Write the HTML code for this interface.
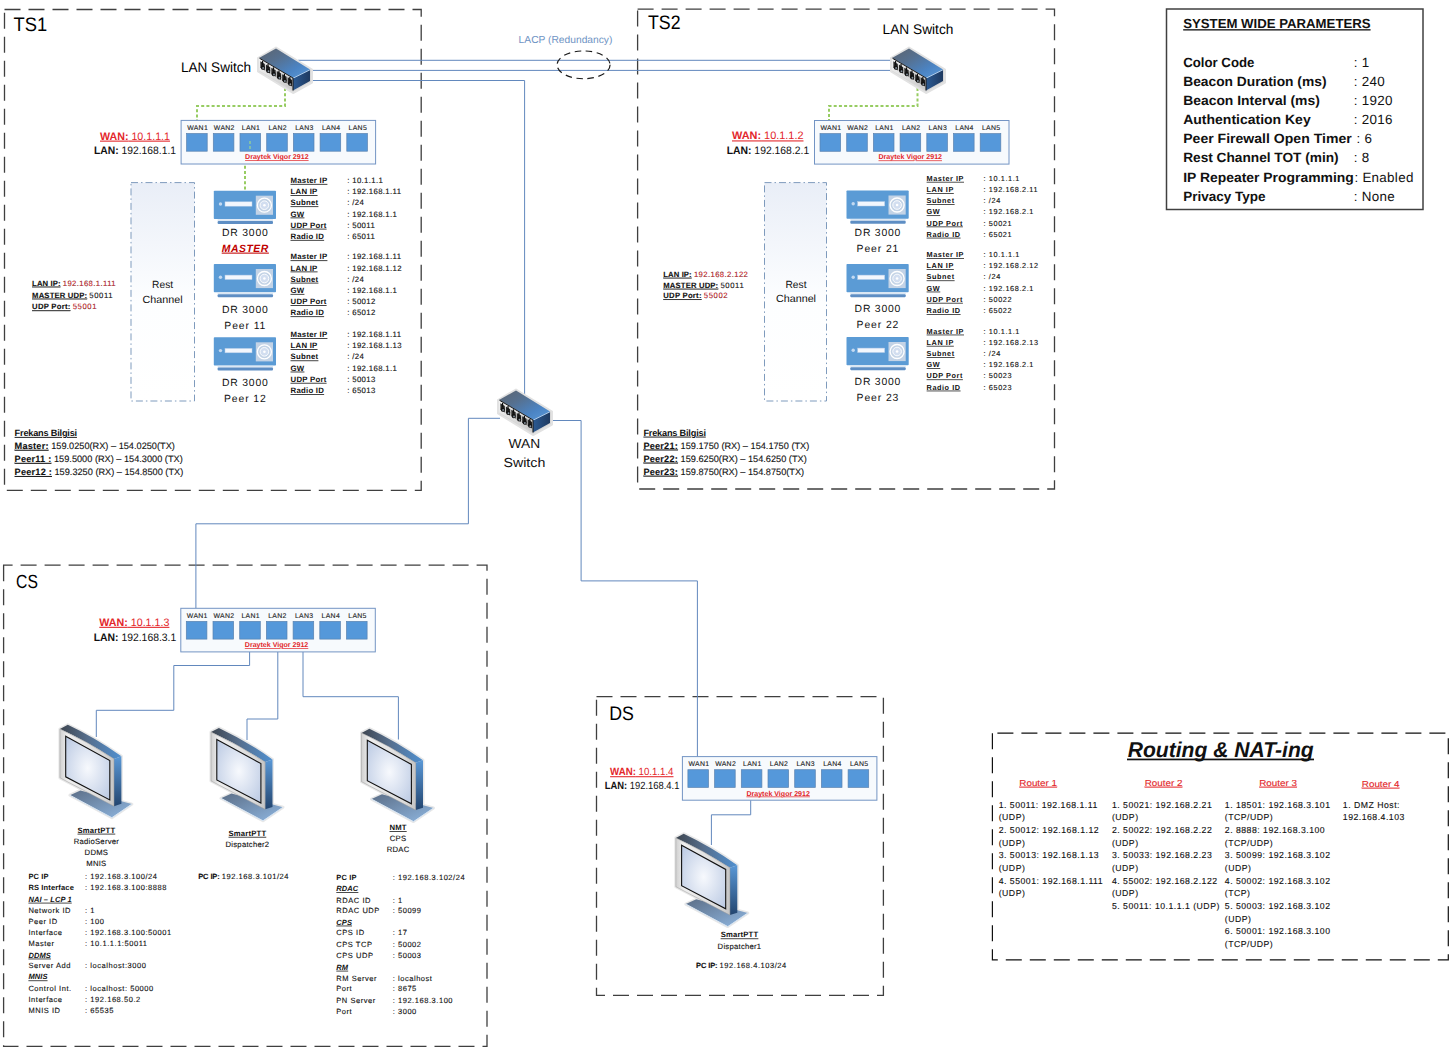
<!DOCTYPE html>
<html><head><meta charset="utf-8"><title>Network Diagram</title>
<style>
html,body{margin:0;padding:0;background:#fff;}
body{width:1450px;height:1047px;overflow:hidden;position:relative;}
text{text-decoration-skip-ink:none;}
svg{position:absolute;left:0;top:0;text-rendering:geometricPrecision;font-family:"Liberation Sans", sans-serif;}
</style></head><body>
<svg width="1450" height="1047" viewBox="0 0 1450 1047">

<defs>
 <linearGradient id="swtop" x1="0" y1="0" x2="1" y2="1">
  <stop offset="0" stop-color="#5b6470"/><stop offset="0.35" stop-color="#56708f"/><stop offset="0.7" stop-color="#4b84c4"/><stop offset="1" stop-color="#5c9ad8"/>
 </linearGradient>
 <linearGradient id="swside" x1="0" y1="0" x2="1" y2="0">
  <stop offset="0" stop-color="#2b5a93"/><stop offset="1" stop-color="#1f3a60"/>
 </linearGradient>
 <linearGradient id="restg" x1="0" y1="0" x2="0" y2="1">
  <stop offset="0" stop-color="#e9eef7"/><stop offset="0.55" stop-color="#fdfeff"/><stop offset="1" stop-color="#ffffff"/>
 </linearGradient>
 <radialGradient id="scr" cx="0.5" cy="0.5" r="0.7">
  <stop offset="0" stop-color="#f7f9fd"/><stop offset="1" stop-color="#b9c8e2"/>
 </radialGradient>
 <linearGradient id="montop" x1="0" y1="0" x2="1" y2="0">
  <stop offset="0" stop-color="#3d4550"/><stop offset="0.45" stop-color="#566e8c"/><stop offset="1" stop-color="#5090d0"/>
 </linearGradient>
 <linearGradient id="monside" x1="0" y1="0" x2="0" y2="1">
  <stop offset="0" stop-color="#5a98d6"/><stop offset="1" stop-color="#23456f"/>
 </linearGradient>
 <linearGradient id="bez" x1="0" y1="0" x2="1" y2="0">
  <stop offset="0" stop-color="#d0d0d0"/><stop offset="0.15" stop-color="#efefef"/><stop offset="0.8" stop-color="#dadada"/><stop offset="1" stop-color="#c4c4c4"/>
 </linearGradient>
 <linearGradient id="base" x1="0" y1="0" x2="1" y2="1">
  <stop offset="0" stop-color="#5c6f88"/><stop offset="1" stop-color="#8fb6e0"/>
 </linearGradient>
 <linearGradient id="swfront" x1="0" y1="0" x2="1" y2="1">
  <stop offset="0" stop-color="#f2f2f2"/><stop offset="1" stop-color="#c9c9c9"/>
 </linearGradient>
 <g id="sw">
  <path d="M0,10 L18,-0.5 L54,21.5 L54,34.5 L35,45 L0,23.5 Z" fill="#d6d6d6" stroke="#e2e2e2" stroke-width="2" stroke-linejoin="round"/>
  <path d="M1,10 L18,0.5 L52,21.5 L35,30 Z" fill="url(#swtop)"/>
  <path d="M35,30 L52,21.5 L52,33 L35,42.5 Z" fill="url(#swside)"/>
  <path d="M35.5,30 L52,21.8" stroke="#b5d5f5" stroke-width="0.9"/>
  <path d="M1,10 L35,30 L35,42.5 L1,22.5 Z" fill="url(#swfront)"/>
  <path d="M1.5,10.3 L35,30" stroke="#1a1a1a" stroke-width="1"/>
  <path d="M35,30 L35,42.5" stroke="#1a1a1a" stroke-width="1.1"/>
  <path d="M2.40,13.32 l4.4,2.6 v6.5 l-4.4,-2.6 z" fill="#262626"/><path d="M4.60,12.92 V17.12" stroke="#0d0d0d" stroke-width="1.2"/><ellipse cx="4.80" cy="19.52" rx="2.0" ry="2.3" fill="#111"/><ellipse cx="5.10" cy="20.12" rx="0.9" ry="1" fill="#8a96a2"/><path d="M7.85,16.53 l4.4,2.6 v6.5 l-4.4,-2.6 z" fill="#262626"/><path d="M10.05,16.12 V20.32" stroke="#0d0d0d" stroke-width="1.2"/><ellipse cx="10.25" cy="22.72" rx="2.0" ry="2.3" fill="#111"/><ellipse cx="10.55" cy="23.32" rx="0.9" ry="1" fill="#8a96a2"/><path d="M13.30,19.73 l4.4,2.6 v6.5 l-4.4,-2.6 z" fill="#262626"/><path d="M15.50,19.33 V23.53" stroke="#0d0d0d" stroke-width="1.2"/><ellipse cx="15.70" cy="25.93" rx="2.0" ry="2.3" fill="#111"/><ellipse cx="16.00" cy="26.53" rx="0.9" ry="1" fill="#8a96a2"/><path d="M18.75,22.94 l4.4,2.6 v6.5 l-4.4,-2.6 z" fill="#262626"/><path d="M20.95,22.53 V26.73" stroke="#0d0d0d" stroke-width="1.2"/><ellipse cx="21.15" cy="29.13" rx="2.0" ry="2.3" fill="#111"/><ellipse cx="21.45" cy="29.73" rx="0.9" ry="1" fill="#8a96a2"/><path d="M24.20,26.14 l4.4,2.6 v6.5 l-4.4,-2.6 z" fill="#262626"/><path d="M26.40,25.74 V29.94" stroke="#0d0d0d" stroke-width="1.2"/><ellipse cx="26.60" cy="32.34" rx="2.0" ry="2.3" fill="#111"/><ellipse cx="26.90" cy="32.94" rx="0.9" ry="1" fill="#8a96a2"/><path d="M29.65,29.35 l4.4,2.6 v6.5 l-4.4,-2.6 z" fill="#262626"/><path d="M31.85,28.94 V33.14" stroke="#0d0d0d" stroke-width="1.2"/><ellipse cx="32.05" cy="35.54" rx="2.0" ry="2.3" fill="#111"/><ellipse cx="32.35" cy="36.14" rx="0.9" ry="1" fill="#8a96a2"/>
 </g>
 <g id="rt">
  <rect x="0" y="0" width="194.5" height="43.6" fill="#f7fafd" stroke="#7394c4" stroke-width="1"/>
  <g fill="#5598da" stroke="#5a82b0" stroke-width="0.7">
   <rect x="5.5" y="13.1" width="20.6" height="17.7"/>
   <rect x="32.2" y="13.1" width="20.6" height="17.7"/>
   <rect x="58.9" y="13.1" width="20.6" height="17.7"/>
   <rect x="85.6" y="13.1" width="20.6" height="17.7"/>
   <rect x="112.3" y="13.1" width="20.6" height="17.7"/>
   <rect x="139.0" y="13.1" width="20.6" height="17.7"/>
   <rect x="165.7" y="13.1" width="20.6" height="17.7"/>
  </g>
 </g>
 <g id="dr">
  <rect x="0" y="0" width="62.2" height="28.3" rx="0.8" fill="#5b9bd5"/>
  <rect x="3.8" y="28.5" width="55.4" height="1.8" fill="#dbe7f4"/>
  <rect x="3.8" y="30.3" width="55.4" height="3" rx="1" fill="#5e8ec4"/>
  <rect x="11.2" y="11.1" width="27" height="4.4" fill="#f3f7fd" stroke="#b4cce8" stroke-width="0.5"/>
  <circle cx="6.7" cy="13.3" r="1.7" fill="#c3d9f1"/>
  <rect x="42" y="5" width="17.2" height="19.1" fill="#c3d3e6"/>
  <circle cx="50.6" cy="14.5" r="7" fill="none" stroke="#fff" stroke-width="1.3"/>
  <circle cx="50.6" cy="14.5" r="4.3" fill="#d2def0" stroke="#fff" stroke-width="0.9"/>
  <circle cx="50.6" cy="14.5" r="1.3" fill="#fff"/>
 </g>
 <g id="mon">
  <path d="M10,70.4 L20.5,65.6 L72,79.3 L52,92.9 Z" fill="#e6e6e6" stroke="#e8e8e8" stroke-width="3" stroke-linejoin="round"/>
  <path d="M0,4.2 L7.9,0 Q34.7,12.5 61.5,31.5 L61.5,79 L54.1,81.4 L0,53 Z" fill="#e6e6e6" stroke="#e8e8e8" stroke-width="3" stroke-linejoin="round"/>
  <path d="M10,70.4 L20.5,65.6 L72,79.3 L52,92.9 Z" fill="url(#base)"/>
  <path d="M72,79.3 L52,92.9 L10,70.4" fill="none" stroke="#d8e6f4" stroke-width="1"/>
  <path d="M0,4.2 L7.9,0 Q34.7,12.5 61.5,31.5 L54.1,34.1 Q27,16.5 0,4.2 Z" fill="url(#montop)"/>
  <path d="M54.1,34.1 L61.5,31.5 L61.5,79 L54.1,81.4 Z" fill="url(#monside)"/>
  <path d="M0,4.2 Q27,16.5 54.1,34.1 L54.1,81.4 L0,53 Z" fill="url(#bez)" stroke="#9a9a9a" stroke-width="0.5"/>
  <path d="M5.8,11.5 L49.9,35.7 L49.9,75.1 L5.8,52 Z" fill="url(#scr)" stroke="#111" stroke-width="1.1"/>
 </g>
</defs>

<path d="M4.5,9.5 H421.2 V490.4 H4.5 Z" stroke="#3f3f3f" stroke-width="1.3" stroke-dasharray="16 8" fill="none"/><path d="M637.6,9.2 H1054.5 V489 H637.6 Z" stroke="#3f3f3f" stroke-width="1.3" stroke-dasharray="16 8" fill="none"/><path d="M3.6,565.2 V1046.3 H487 V565.2 Z" stroke="#3f3f3f" stroke-width="1.3" stroke-dasharray="16 8" fill="none"/><path d="M596.5,696.6 H883.4 V995.3 H596.5 Z" stroke="#3f3f3f" stroke-width="1.3" stroke-dasharray="16 8" fill="none"/><path d="M992.4,733.2 V959.8 H1448.3 V733.2 Z" stroke="#111" stroke-width="1.2" stroke-dasharray="16 8" fill="none"/><rect x="1166.5" y="9" width="256.5" height="200.5" fill="none" stroke="#404040" stroke-width="1.5"/><path d="M298,60.3 L892,60.3" stroke="#6288bd" stroke-width="1" fill="none"/><path d="M312,70.4 L892,70.4" stroke="#6288bd" stroke-width="1" fill="none"/><path d="M312,80.5 L524.6,80.5 L524.6,395" stroke="#6288bd" stroke-width="1" fill="none"/><path d="M500,418.3 L468.4,418.3 L468.4,523.8 L195.9,523.8 L195.9,608.3" stroke="#6288bd" stroke-width="1" fill="none"/><path d="M550,420.5 L581.1,420.5 L581.1,580.9 L697.4,580.9 L697.4,756.6" stroke="#6288bd" stroke-width="1" fill="none"/><path d="M249.6,651.7 L249.6,665.5 L173.8,665.5 L173.8,710.3 L96.3,710.3 L96.3,737" stroke="#6288bd" stroke-width="1" fill="none"/><path d="M277.8,651.7 L277.8,719 L247,719 L247,740" stroke="#6288bd" stroke-width="1" fill="none"/><path d="M303,651.7 L303,696.7 L398.4,696.7 L398.4,739.5" stroke="#6288bd" stroke-width="1" fill="none"/><path d="M750.7,800.2 L750.7,814.8 L711.4,814.8 L711.4,845" stroke="#6288bd" stroke-width="1" fill="none"/><ellipse cx="583.6" cy="64.85" rx="26.5" ry="13.9" fill="none" stroke="#1a1a1a" stroke-width="1.2" stroke-dasharray="6.5 4.5"/><path d="M285,88 L285,106 L197,106 L197,120.5" stroke="#97cc62" stroke-width="2" stroke-dasharray="3 2.2" fill="none"/><path d="M245,160.5 L245,190.5" stroke="#97cc62" stroke-width="2" stroke-dasharray="3 2.2" fill="none"/><path d="M917.5,88 L917.5,106 L829,106 L829,120.5" stroke="#97cc62" stroke-width="2" stroke-dasharray="3 2.2" fill="none"/><use href="#sw" x="258" y="48"/><use href="#sw" x="891" y="48"/><use href="#sw" x="498" y="390"/><use href="#rt" x="181.1" y="120.4"/><use href="#rt" x="814.5" y="120.5"/><use href="#rt" x="180.8" y="608.3"/><use href="#rt" x="682.4" y="756.6"/><use href="#dr" x="213.8" y="190.7"/><use href="#dr" x="213.8" y="264"/><use href="#dr" x="213.8" y="337.3"/><use href="#dr" x="846.5" y="190.5"/><use href="#dr" x="846.5" y="264"/><use href="#dr" x="846.5" y="337"/><rect x="131" y="182.6" width="63.5" height="218.4" fill="url(#restg)" stroke="#7f9bbd" stroke-width="1" stroke-dasharray="7 3 1.5 3"/><rect x="764.5" y="182.6" width="62.0" height="218.4" fill="url(#restg)" stroke="#7f9bbd" stroke-width="1" stroke-dasharray="7 3 1.5 3"/><use href="#mon" x="59.9" y="724.8"/><use href="#mon" x="211" y="727.9"/><use href="#mon" x="361.5" y="728.7"/><use href="#mon" x="675.8" y="833.7"/><path d="M250,141 V151" stroke="#8cc9a0" stroke-width="1.6" stroke-dasharray="3 2" fill="none"/><rect x="1127" y="758.6" width="187" height="1.7" fill="#111"/><text x="197.6" y="130.0" font-size="6.9" fill="#222" text-anchor="middle" letter-spacing="0.3" stroke="#222" stroke-width="0.12">WAN1</text><text x="224.3" y="130.0" font-size="6.9" fill="#222" text-anchor="middle" letter-spacing="0.3" stroke="#222" stroke-width="0.12">WAN2</text><text x="251.0" y="130.0" font-size="6.9" fill="#222" text-anchor="middle" letter-spacing="0.3" stroke="#222" stroke-width="0.12">LAN1</text><text x="277.7" y="130.0" font-size="6.9" fill="#222" text-anchor="middle" letter-spacing="0.3" stroke="#222" stroke-width="0.12">LAN2</text><text x="304.4" y="130.0" font-size="6.9" fill="#222" text-anchor="middle" letter-spacing="0.3" stroke="#222" stroke-width="0.12">LAN3</text><text x="331.1" y="130.0" font-size="6.9" fill="#222" text-anchor="middle" letter-spacing="0.3" stroke="#222" stroke-width="0.12">LAN4</text><text x="357.8" y="130.0" font-size="6.9" fill="#222" text-anchor="middle" letter-spacing="0.3" stroke="#222" stroke-width="0.12">LAN5</text><text x="245.1" y="159.3" font-size="7.1" font-weight="bold" fill="#e3262a" text-decoration="underline" textLength="63.5" lengthAdjust="spacingAndGlyphs">Draytek Vigor 2912</text><text x="831.0" y="130.1" font-size="6.9" fill="#222" text-anchor="middle" letter-spacing="0.3" stroke="#222" stroke-width="0.12">WAN1</text><text x="857.7" y="130.1" font-size="6.9" fill="#222" text-anchor="middle" letter-spacing="0.3" stroke="#222" stroke-width="0.12">WAN2</text><text x="884.4" y="130.1" font-size="6.9" fill="#222" text-anchor="middle" letter-spacing="0.3" stroke="#222" stroke-width="0.12">LAN1</text><text x="911.1" y="130.1" font-size="6.9" fill="#222" text-anchor="middle" letter-spacing="0.3" stroke="#222" stroke-width="0.12">LAN2</text><text x="937.8" y="130.1" font-size="6.9" fill="#222" text-anchor="middle" letter-spacing="0.3" stroke="#222" stroke-width="0.12">LAN3</text><text x="964.5" y="130.1" font-size="6.9" fill="#222" text-anchor="middle" letter-spacing="0.3" stroke="#222" stroke-width="0.12">LAN4</text><text x="991.2" y="130.1" font-size="6.9" fill="#222" text-anchor="middle" letter-spacing="0.3" stroke="#222" stroke-width="0.12">LAN5</text><text x="878.5" y="159.4" font-size="7.1" font-weight="bold" fill="#e3262a" text-decoration="underline" textLength="63.5" lengthAdjust="spacingAndGlyphs">Draytek Vigor 2912</text><text x="197.3" y="617.9" font-size="6.9" fill="#222" text-anchor="middle" letter-spacing="0.3" stroke="#222" stroke-width="0.12">WAN1</text><text x="224.0" y="617.9" font-size="6.9" fill="#222" text-anchor="middle" letter-spacing="0.3" stroke="#222" stroke-width="0.12">WAN2</text><text x="250.7" y="617.9" font-size="6.9" fill="#222" text-anchor="middle" letter-spacing="0.3" stroke="#222" stroke-width="0.12">LAN1</text><text x="277.4" y="617.9" font-size="6.9" fill="#222" text-anchor="middle" letter-spacing="0.3" stroke="#222" stroke-width="0.12">LAN2</text><text x="304.1" y="617.9" font-size="6.9" fill="#222" text-anchor="middle" letter-spacing="0.3" stroke="#222" stroke-width="0.12">LAN3</text><text x="330.8" y="617.9" font-size="6.9" fill="#222" text-anchor="middle" letter-spacing="0.3" stroke="#222" stroke-width="0.12">LAN4</text><text x="357.5" y="617.9" font-size="6.9" fill="#222" text-anchor="middle" letter-spacing="0.3" stroke="#222" stroke-width="0.12">LAN5</text><text x="244.8" y="647.2" font-size="7.1" font-weight="bold" fill="#e3262a" text-decoration="underline" textLength="63.5" lengthAdjust="spacingAndGlyphs">Draytek Vigor 2912</text><text x="698.9" y="766.2" font-size="6.9" fill="#222" text-anchor="middle" letter-spacing="0.3" stroke="#222" stroke-width="0.12">WAN1</text><text x="725.6" y="766.2" font-size="6.9" fill="#222" text-anchor="middle" letter-spacing="0.3" stroke="#222" stroke-width="0.12">WAN2</text><text x="752.3" y="766.2" font-size="6.9" fill="#222" text-anchor="middle" letter-spacing="0.3" stroke="#222" stroke-width="0.12">LAN1</text><text x="779.0" y="766.2" font-size="6.9" fill="#222" text-anchor="middle" letter-spacing="0.3" stroke="#222" stroke-width="0.12">LAN2</text><text x="805.7" y="766.2" font-size="6.9" fill="#222" text-anchor="middle" letter-spacing="0.3" stroke="#222" stroke-width="0.12">LAN3</text><text x="832.4" y="766.2" font-size="6.9" fill="#222" text-anchor="middle" letter-spacing="0.3" stroke="#222" stroke-width="0.12">LAN4</text><text x="859.1" y="766.2" font-size="6.9" fill="#222" text-anchor="middle" letter-spacing="0.3" stroke="#222" stroke-width="0.12">LAN5</text><text x="746.4" y="795.5" font-size="7.1" font-weight="bold" fill="#e3262a" text-decoration="underline" textLength="63.5" lengthAdjust="spacingAndGlyphs">Draytek Vigor 2912</text><text x="13.6" y="30.6" font-size="19.5" textLength="33.6" lengthAdjust="spacingAndGlyphs">TS1</text><text x="181.0" y="72.0" font-size="14" textLength="70.0" lengthAdjust="spacingAndGlyphs">LAN Switch</text><text x="100.0" y="139.6" font-size="10.8" fill="#e3262a" text-decoration="underline" textLength="70.0" lengthAdjust="spacingAndGlyphs"><tspan font-weight="bold">WAN:</tspan> 10.1.1.1</text><text x="94.0" y="153.8" font-size="10.8" fill="#111" textLength="82.0" lengthAdjust="spacingAndGlyphs"><tspan font-weight="bold">LAN:</tspan> 192.168.1.1</text><text x="290.5" y="182.9" font-size="7.8" font-weight="bold" fill="#111" text-decoration="underline" letter-spacing="0.25">Master IP</text><text x="347.2" y="182.9" font-size="7.8" fill="#111" letter-spacing="0.35" stroke="#111" stroke-width="0.12">: 10.1.1.1</text><text x="290.5" y="194.1" font-size="7.8" font-weight="bold" fill="#111" text-decoration="underline" letter-spacing="0.25">LAN IP</text><text x="347.2" y="194.1" font-size="7.8" fill="#111" letter-spacing="0.35" stroke="#111" stroke-width="0.12">: 192.168.1.11</text><text x="290.5" y="205.3" font-size="7.8" font-weight="bold" fill="#111" text-decoration="underline" letter-spacing="0.25">Subnet</text><text x="347.2" y="205.3" font-size="7.8" fill="#111" letter-spacing="0.35" stroke="#111" stroke-width="0.12">: /24</text><text x="290.5" y="216.5" font-size="7.8" font-weight="bold" fill="#111" text-decoration="underline" letter-spacing="0.25">GW</text><text x="347.2" y="216.5" font-size="7.8" fill="#111" letter-spacing="0.35" stroke="#111" stroke-width="0.12">: 192.168.1.1</text><text x="290.5" y="227.7" font-size="7.8" font-weight="bold" fill="#111" text-decoration="underline" letter-spacing="0.25">UDP Port</text><text x="347.2" y="227.7" font-size="7.8" fill="#111" letter-spacing="0.35" stroke="#111" stroke-width="0.12">: 50011</text><text x="290.5" y="238.9" font-size="7.8" font-weight="bold" fill="#111" text-decoration="underline" letter-spacing="0.25">Radio ID</text><text x="347.2" y="238.9" font-size="7.8" fill="#111" letter-spacing="0.35" stroke="#111" stroke-width="0.12">: 65011</text><text x="290.5" y="259.3" font-size="7.8" font-weight="bold" fill="#111" text-decoration="underline" letter-spacing="0.25">Master IP</text><text x="347.2" y="259.3" font-size="7.8" fill="#111" letter-spacing="0.35" stroke="#111" stroke-width="0.12">: 192.168.1.11</text><text x="290.5" y="270.5" font-size="7.8" font-weight="bold" fill="#111" text-decoration="underline" letter-spacing="0.25">LAN IP</text><text x="347.2" y="270.5" font-size="7.8" fill="#111" letter-spacing="0.35" stroke="#111" stroke-width="0.12">: 192.168.1.12</text><text x="290.5" y="281.7" font-size="7.8" font-weight="bold" fill="#111" text-decoration="underline" letter-spacing="0.25">Subnet</text><text x="347.2" y="281.7" font-size="7.8" fill="#111" letter-spacing="0.35" stroke="#111" stroke-width="0.12">: /24</text><text x="290.5" y="292.9" font-size="7.8" font-weight="bold" fill="#111" text-decoration="underline" letter-spacing="0.25">GW</text><text x="347.2" y="292.9" font-size="7.8" fill="#111" letter-spacing="0.35" stroke="#111" stroke-width="0.12">: 192.168.1.1</text><text x="290.5" y="304.1" font-size="7.8" font-weight="bold" fill="#111" text-decoration="underline" letter-spacing="0.25">UDP Port</text><text x="347.2" y="304.1" font-size="7.8" fill="#111" letter-spacing="0.35" stroke="#111" stroke-width="0.12">: 50012</text><text x="290.5" y="315.3" font-size="7.8" font-weight="bold" fill="#111" text-decoration="underline" letter-spacing="0.25">Radio ID</text><text x="347.2" y="315.3" font-size="7.8" fill="#111" letter-spacing="0.35" stroke="#111" stroke-width="0.12">: 65012</text><text x="290.5" y="337.0" font-size="7.8" font-weight="bold" fill="#111" text-decoration="underline" letter-spacing="0.25">Master IP</text><text x="347.2" y="337.0" font-size="7.8" fill="#111" letter-spacing="0.35" stroke="#111" stroke-width="0.12">: 192.168.1.11</text><text x="290.5" y="348.2" font-size="7.8" font-weight="bold" fill="#111" text-decoration="underline" letter-spacing="0.25">LAN IP</text><text x="347.2" y="348.2" font-size="7.8" fill="#111" letter-spacing="0.35" stroke="#111" stroke-width="0.12">: 192.168.1.13</text><text x="290.5" y="359.4" font-size="7.8" font-weight="bold" fill="#111" text-decoration="underline" letter-spacing="0.25">Subnet</text><text x="347.2" y="359.4" font-size="7.8" fill="#111" letter-spacing="0.35" stroke="#111" stroke-width="0.12">: /24</text><text x="290.5" y="370.6" font-size="7.8" font-weight="bold" fill="#111" text-decoration="underline" letter-spacing="0.25">GW</text><text x="347.2" y="370.6" font-size="7.8" fill="#111" letter-spacing="0.35" stroke="#111" stroke-width="0.12">: 192.168.1.1</text><text x="290.5" y="381.8" font-size="7.8" font-weight="bold" fill="#111" text-decoration="underline" letter-spacing="0.25">UDP Port</text><text x="347.2" y="381.8" font-size="7.8" fill="#111" letter-spacing="0.35" stroke="#111" stroke-width="0.12">: 50013</text><text x="290.5" y="393.0" font-size="7.8" font-weight="bold" fill="#111" text-decoration="underline" letter-spacing="0.25">Radio ID</text><text x="347.2" y="393.0" font-size="7.8" fill="#111" letter-spacing="0.35" stroke="#111" stroke-width="0.12">: 65013</text><text x="245.3" y="235.6" font-size="10.4" fill="#111" text-anchor="middle" letter-spacing="0.8">DR 3000</text><text x="245.3" y="251.6" font-size="10.4" font-weight="bold" font-style="italic" fill="#c00000" text-decoration="underline" text-anchor="middle" letter-spacing="0.55">MASTER</text><text x="245.3" y="312.6" font-size="10.4" fill="#111" text-anchor="middle" letter-spacing="0.8">DR 3000</text><text x="245.3" y="328.6" font-size="10.4" fill="#111" text-anchor="middle" letter-spacing="0.9">Peer 11</text><text x="245.3" y="385.8" font-size="10.4" fill="#111" text-anchor="middle" letter-spacing="0.8">DR 3000</text><text x="245.3" y="401.8" font-size="10.4" fill="#111" text-anchor="middle" letter-spacing="0.9">Peer 12</text><text x="162.6" y="288.2" font-size="10.4" fill="#111" text-anchor="middle" textLength="21.0" lengthAdjust="spacingAndGlyphs">Rest</text><text x="162.6" y="303.2" font-size="10.4" fill="#111" text-anchor="middle" textLength="40.0" lengthAdjust="spacingAndGlyphs">Channel</text><text x="32.1" y="285.6" font-size="7.7" fill="#111" stroke="#111" stroke-width="0.12"><tspan font-weight="bold" text-decoration="underline" letter-spacing="0.1">LAN IP:</tspan> <tspan fill="#e3262a" letter-spacing="0.4">192.168.1.111</tspan></text><text x="32.1" y="297.6" font-size="7.7" fill="#111" stroke="#111" stroke-width="0.12"><tspan font-weight="bold" text-decoration="underline" letter-spacing="0.15">MASTER UDP:</tspan> <tspan letter-spacing="0.6">50011</tspan></text><text x="32.1" y="309.3" font-size="7.7" fill="#111" stroke="#111" stroke-width="0.12"><tspan font-weight="bold" text-decoration="underline" letter-spacing="0.25">UDP Port:</tspan> <tspan fill="#e3262a" letter-spacing="0.6">55001</tspan></text><text x="14.6" y="435.9" font-size="9.2" font-weight="bold" fill="#111" text-decoration="underline" letter-spacing="-0.2">Frekans Bilgisi</text><text x="14.6" y="448.8" font-size="9.2" fill="#111" stroke="#111" stroke-width="0.12"><tspan font-weight="bold" text-decoration="underline" letter-spacing="0.2">Master:</tspan> 159.0250(RX) – 154.0250(TX)</text><text x="14.6" y="461.9" font-size="9.2" fill="#111" stroke="#111" stroke-width="0.12"><tspan font-weight="bold" text-decoration="underline" letter-spacing="0.2">Peer11 :</tspan> 159.5000 (RX) – 154.3000 (TX)</text><text x="14.6" y="475.0" font-size="9.2" fill="#111" stroke="#111" stroke-width="0.12"><tspan font-weight="bold" text-decoration="underline" letter-spacing="0.2">Peer12 :</tspan> 159.3250 (RX) – 154.8500 (TX)</text><text x="518.6" y="42.8" font-size="10.2" fill="#6f94c4" textLength="93.8" lengthAdjust="spacingAndGlyphs">LACP (Redundancy)</text><text x="648.0" y="28.6" font-size="19.5" textLength="32.5" lengthAdjust="spacingAndGlyphs">TS2</text><text x="882.6" y="33.6" font-size="14" textLength="70.8" lengthAdjust="spacingAndGlyphs">LAN Switch</text><text x="732.0" y="139.4" font-size="10.8" fill="#e3262a" text-decoration="underline" textLength="71.5" lengthAdjust="spacingAndGlyphs"><tspan font-weight="bold">WAN:</tspan> 10.1.1.2</text><text x="726.7" y="153.6" font-size="10.8" fill="#111" textLength="82.5" lengthAdjust="spacingAndGlyphs"><tspan font-weight="bold">LAN:</tspan> 192.168.2.1</text><text x="926.6" y="180.8" font-size="7.3" font-weight="bold" fill="#111" text-decoration="underline" letter-spacing="0.55">Master IP</text><text x="983.6" y="180.8" font-size="7.3" fill="#111" letter-spacing="0.6" stroke="#111" stroke-width="0.12">: 10.1.1.1</text><text x="926.6" y="192.0" font-size="7.3" font-weight="bold" fill="#111" text-decoration="underline" letter-spacing="0.55">LAN IP</text><text x="983.6" y="192.0" font-size="7.3" fill="#111" letter-spacing="0.6" stroke="#111" stroke-width="0.12">: 192.168.2.11</text><text x="926.6" y="203.2" font-size="7.3" font-weight="bold" fill="#111" text-decoration="underline" letter-spacing="0.55">Subnet</text><text x="983.6" y="203.2" font-size="7.3" fill="#111" letter-spacing="0.6" stroke="#111" stroke-width="0.12">: /24</text><text x="926.6" y="214.3" font-size="7.3" font-weight="bold" fill="#111" text-decoration="underline" letter-spacing="0.55">GW</text><text x="983.6" y="214.3" font-size="7.3" fill="#111" letter-spacing="0.6" stroke="#111" stroke-width="0.12">: 192.168.2.1</text><text x="926.6" y="225.5" font-size="7.3" font-weight="bold" fill="#111" text-decoration="underline" letter-spacing="0.55">UDP Port</text><text x="983.6" y="225.5" font-size="7.3" fill="#111" letter-spacing="0.6" stroke="#111" stroke-width="0.12">: 50021</text><text x="926.6" y="236.7" font-size="7.3" font-weight="bold" fill="#111" text-decoration="underline" letter-spacing="0.55">Radio ID</text><text x="983.6" y="236.7" font-size="7.3" fill="#111" letter-spacing="0.6" stroke="#111" stroke-width="0.12">: 65021</text><text x="926.6" y="257.0" font-size="7.3" font-weight="bold" fill="#111" text-decoration="underline" letter-spacing="0.55">Master IP</text><text x="983.6" y="257.0" font-size="7.3" fill="#111" letter-spacing="0.6" stroke="#111" stroke-width="0.12">: 10.1.1.1</text><text x="926.6" y="268.2" font-size="7.3" font-weight="bold" fill="#111" text-decoration="underline" letter-spacing="0.55">LAN IP</text><text x="983.6" y="268.2" font-size="7.3" fill="#111" letter-spacing="0.6" stroke="#111" stroke-width="0.12">: 192.168.2.12</text><text x="926.6" y="279.4" font-size="7.3" font-weight="bold" fill="#111" text-decoration="underline" letter-spacing="0.55">Subnet</text><text x="983.6" y="279.4" font-size="7.3" fill="#111" letter-spacing="0.6" stroke="#111" stroke-width="0.12">: /24</text><text x="926.6" y="290.6" font-size="7.3" font-weight="bold" fill="#111" text-decoration="underline" letter-spacing="0.55">GW</text><text x="983.6" y="290.6" font-size="7.3" fill="#111" letter-spacing="0.6" stroke="#111" stroke-width="0.12">: 192.168.2.1</text><text x="926.6" y="301.8" font-size="7.3" font-weight="bold" fill="#111" text-decoration="underline" letter-spacing="0.55">UDP Port</text><text x="983.6" y="301.8" font-size="7.3" fill="#111" letter-spacing="0.6" stroke="#111" stroke-width="0.12">: 50022</text><text x="926.6" y="313.0" font-size="7.3" font-weight="bold" fill="#111" text-decoration="underline" letter-spacing="0.55">Radio ID</text><text x="983.6" y="313.0" font-size="7.3" fill="#111" letter-spacing="0.6" stroke="#111" stroke-width="0.12">: 65022</text><text x="926.6" y="333.6" font-size="7.3" font-weight="bold" fill="#111" text-decoration="underline" letter-spacing="0.55">Master IP</text><text x="983.6" y="333.6" font-size="7.3" fill="#111" letter-spacing="0.6" stroke="#111" stroke-width="0.12">: 10.1.1.1</text><text x="926.6" y="344.8" font-size="7.3" font-weight="bold" fill="#111" text-decoration="underline" letter-spacing="0.55">LAN IP</text><text x="983.6" y="344.8" font-size="7.3" fill="#111" letter-spacing="0.6" stroke="#111" stroke-width="0.12">: 192.168.2.13</text><text x="926.6" y="356.0" font-size="7.3" font-weight="bold" fill="#111" text-decoration="underline" letter-spacing="0.55">Subnet</text><text x="983.6" y="356.0" font-size="7.3" fill="#111" letter-spacing="0.6" stroke="#111" stroke-width="0.12">: /24</text><text x="926.6" y="367.2" font-size="7.3" font-weight="bold" fill="#111" text-decoration="underline" letter-spacing="0.55">GW</text><text x="983.6" y="367.2" font-size="7.3" fill="#111" letter-spacing="0.6" stroke="#111" stroke-width="0.12">: 192.168.2.1</text><text x="926.6" y="378.4" font-size="7.3" font-weight="bold" fill="#111" text-decoration="underline" letter-spacing="0.55">UDP Port</text><text x="983.6" y="378.4" font-size="7.3" fill="#111" letter-spacing="0.6" stroke="#111" stroke-width="0.12">: 50023</text><text x="926.6" y="389.6" font-size="7.3" font-weight="bold" fill="#111" text-decoration="underline" letter-spacing="0.55">Radio ID</text><text x="983.6" y="389.6" font-size="7.3" fill="#111" letter-spacing="0.6" stroke="#111" stroke-width="0.12">: 65023</text><text x="877.9" y="235.6" font-size="10.4" fill="#111" text-anchor="middle" letter-spacing="0.8">DR 3000</text><text x="877.9" y="251.6" font-size="10.4" fill="#111" text-anchor="middle" letter-spacing="0.9">Peer 21</text><text x="877.9" y="312.2" font-size="10.4" fill="#111" text-anchor="middle" letter-spacing="0.8">DR 3000</text><text x="877.9" y="328.2" font-size="10.4" fill="#111" text-anchor="middle" letter-spacing="0.9">Peer 22</text><text x="877.9" y="385.3" font-size="10.4" fill="#111" text-anchor="middle" letter-spacing="0.8">DR 3000</text><text x="877.9" y="401.3" font-size="10.4" fill="#111" text-anchor="middle" letter-spacing="0.9">Peer 23</text><text x="796.0" y="288.0" font-size="10.4" fill="#111" text-anchor="middle" textLength="21.0" lengthAdjust="spacingAndGlyphs">Rest</text><text x="796.0" y="302.0" font-size="10.4" fill="#111" text-anchor="middle" textLength="40.0" lengthAdjust="spacingAndGlyphs">Channel</text><text x="663.3" y="276.7" font-size="7.7" fill="#111" stroke="#111" stroke-width="0.12"><tspan font-weight="bold" text-decoration="underline" letter-spacing="0.1">LAN IP:</tspan> <tspan fill="#e3262a" letter-spacing="0.4">192.168.2.122</tspan></text><text x="663.3" y="287.7" font-size="7.7" fill="#111" stroke="#111" stroke-width="0.12"><tspan font-weight="bold" text-decoration="underline" letter-spacing="0.15">MASTER UDP:</tspan> <tspan letter-spacing="0.6">50011</tspan></text><text x="663.3" y="298.2" font-size="7.7" fill="#111" stroke="#111" stroke-width="0.12"><tspan font-weight="bold" text-decoration="underline" letter-spacing="0.25">UDP Port:</tspan> <tspan fill="#e3262a" letter-spacing="0.6">55002</tspan></text><text x="643.4" y="435.6" font-size="9.2" font-weight="bold" fill="#111" text-decoration="underline" letter-spacing="-0.2">Frekans Bilgisi</text><text x="643.4" y="448.5" font-size="9.2" fill="#111" stroke="#111" stroke-width="0.12"><tspan font-weight="bold" text-decoration="underline" letter-spacing="0.2">Peer21:</tspan> 159.1750 (RX) – 154.1750 (TX)</text><text x="643.4" y="461.6" font-size="9.2" fill="#111" stroke="#111" stroke-width="0.12"><tspan font-weight="bold" text-decoration="underline" letter-spacing="0.2">Peer22:</tspan> 159.6250(RX) – 154.6250 (TX)</text><text x="643.4" y="474.7" font-size="9.2" fill="#111" stroke="#111" stroke-width="0.12"><tspan font-weight="bold" text-decoration="underline" letter-spacing="0.2">Peer23:</tspan> 159.8750(RX) – 154.8750(TX)</text><text x="1183.2" y="28.2" font-size="13.2" font-weight="bold" fill="#111" text-decoration="underline" textLength="187.4" lengthAdjust="spacingAndGlyphs">SYSTEM WIDE PARAMETERS</text><text x="1183.2" y="67.4" font-size="13.4" font-weight="bold" fill="#111" textLength="71.2" lengthAdjust="spacingAndGlyphs">Color Code</text><text x="1353.8" y="67.4" font-size="13.4" fill="#111" letter-spacing="0.3">: 1</text><text x="1183.2" y="86.3" font-size="13.4" font-weight="bold" fill="#111" textLength="143.3" lengthAdjust="spacingAndGlyphs">Beacon Duration (ms)</text><text x="1353.8" y="86.3" font-size="13.4" fill="#111" letter-spacing="0.3">: 240</text><text x="1183.2" y="105.2" font-size="13.4" font-weight="bold" fill="#111" textLength="136.6" lengthAdjust="spacingAndGlyphs">Beacon Interval (ms)</text><text x="1353.8" y="105.2" font-size="13.4" fill="#111" letter-spacing="0.3">: 1920</text><text x="1183.2" y="124.1" font-size="13.4" font-weight="bold" fill="#111" textLength="127.5" lengthAdjust="spacingAndGlyphs">Authentication Key</text><text x="1353.8" y="124.1" font-size="13.4" fill="#111" letter-spacing="0.3">: 2016</text><text x="1183.2" y="143.0" font-size="13.4" font-weight="bold" fill="#111" textLength="168.5" lengthAdjust="spacingAndGlyphs">Peer Firewall Open Timer</text><text x="1356.5" y="143.0" font-size="13.4" fill="#111" letter-spacing="0.3">: 6</text><text x="1183.2" y="161.9" font-size="13.4" font-weight="bold" fill="#111" textLength="155.5" lengthAdjust="spacingAndGlyphs">Rest Channel TOT (min)</text><text x="1353.8" y="161.9" font-size="13.4" fill="#111" letter-spacing="0.3">: 8</text><text x="1183.2" y="182.1" font-size="13.4" font-weight="bold" fill="#111" textLength="170.6" lengthAdjust="spacingAndGlyphs">IP Repeater Programming</text><text x="1354.4" y="182.1" font-size="13.4" fill="#111">:</text><text x="1362.4" y="182.1" font-size="13.4" fill="#111" letter-spacing="0.3">Enabled</text><text x="1183.2" y="201.4" font-size="13.4" font-weight="bold" fill="#111" textLength="82.4" lengthAdjust="spacingAndGlyphs">Privacy Type</text><text x="1353.8" y="201.4" font-size="13.4" fill="#111" letter-spacing="0.3">: None</text><text x="524.4" y="447.6" font-size="13.1" fill="#111" text-anchor="middle" textLength="31.6" lengthAdjust="spacingAndGlyphs">WAN</text><text x="524.4" y="466.7" font-size="13.1" fill="#111" text-anchor="middle" textLength="41.8" lengthAdjust="spacingAndGlyphs">Switch</text><text x="16.1" y="588.3" font-size="19.1" textLength="21.8" lengthAdjust="spacingAndGlyphs">CS</text><text x="99.3" y="625.8" font-size="10.8" fill="#e3262a" text-decoration="underline" textLength="70.1" lengthAdjust="spacingAndGlyphs"><tspan font-weight="bold">WAN:</tspan> 10.1.1.3</text><text x="93.7" y="640.7" font-size="10.8" fill="#111" textLength="82.6" lengthAdjust="spacingAndGlyphs"><tspan font-weight="bold">LAN:</tspan> 192.168.3.1</text><text x="96.4" y="832.7" font-size="7.7" font-weight="bold" fill="#111" text-decoration="underline" text-anchor="middle" letter-spacing="0.18">SmartPTT</text><text x="96.4" y="843.9" font-size="7.7" fill="#111" text-anchor="middle" letter-spacing="0.25" stroke="#111" stroke-width="0.12">RadioServer</text><text x="96.4" y="855.1" font-size="7.7" fill="#111" text-anchor="middle" letter-spacing="0.25" stroke="#111" stroke-width="0.12">DDMS</text><text x="96.4" y="866.3" font-size="7.7" fill="#111" text-anchor="middle" letter-spacing="0.25" stroke="#111" stroke-width="0.12">MNIS</text><text x="247.4" y="835.8" font-size="7.7" font-weight="bold" fill="#111" text-decoration="underline" text-anchor="middle" letter-spacing="0.18">SmartPTT</text><text x="247.4" y="846.6" font-size="7.7" fill="#111" text-anchor="middle" letter-spacing="0.25" stroke="#111" stroke-width="0.12">Dispatcher2</text><text x="398.1" y="830.0" font-size="7.7" font-weight="bold" fill="#111" text-decoration="underline" text-anchor="middle" letter-spacing="0.18">NMT</text><text x="398.1" y="840.8" font-size="7.7" fill="#111" text-anchor="middle" letter-spacing="0.25" stroke="#111" stroke-width="0.12">CPS</text><text x="398.1" y="851.6" font-size="7.7" fill="#111" text-anchor="middle" letter-spacing="0.25" stroke="#111" stroke-width="0.12">RDAC</text><text x="198.2" y="878.7" font-size="7.5" fill="#111" stroke="#111" stroke-width="0.12"><tspan font-weight="bold" letter-spacing="-0.1">PC IP:</tspan> <tspan letter-spacing="0.55">192.168.3.101/24</tspan></text><text x="28.4" y="878.8" font-size="7.5" font-weight="bold" fill="#111" letter-spacing="0.15">PC IP</text><text x="85.1" y="878.8" font-size="7.5" fill="#111" letter-spacing="0.55" stroke="#111" stroke-width="0.12">: 192.168.3.100/24</text><text x="28.4" y="889.9" font-size="7.5" font-weight="bold" fill="#111" letter-spacing="0.15">RS Interface</text><text x="85.1" y="889.9" font-size="7.5" fill="#111" letter-spacing="0.55" stroke="#111" stroke-width="0.12">: 192.168.3.100:8888</text><text x="28.4" y="901.7" font-size="7.5" font-weight="bold" font-style="italic" fill="#111" text-decoration="underline" letter-spacing="0.1">NAI – LCP 1</text><text x="28.4" y="912.7" font-size="7.5" fill="#111" letter-spacing="0.55" stroke="#111" stroke-width="0.12">Network ID</text><text x="85.1" y="912.7" font-size="7.5" fill="#111" letter-spacing="0.55" stroke="#111" stroke-width="0.12">: 1</text><text x="28.4" y="923.7" font-size="7.5" fill="#111" letter-spacing="0.55" stroke="#111" stroke-width="0.12">Peer ID</text><text x="85.1" y="923.7" font-size="7.5" fill="#111" letter-spacing="0.55" stroke="#111" stroke-width="0.12">: 100</text><text x="28.4" y="934.8" font-size="7.5" fill="#111" letter-spacing="0.55" stroke="#111" stroke-width="0.12">Interface</text><text x="85.1" y="934.8" font-size="7.5" fill="#111" letter-spacing="0.55" stroke="#111" stroke-width="0.12">: 192.168.3.100:50001</text><text x="28.4" y="945.6" font-size="7.5" fill="#111" letter-spacing="0.55" stroke="#111" stroke-width="0.12">Master</text><text x="85.1" y="945.6" font-size="7.5" fill="#111" letter-spacing="0.55" stroke="#111" stroke-width="0.12">: 10.1.1.1:50011</text><text x="28.4" y="957.6" font-size="7.5" font-weight="bold" font-style="italic" fill="#111" text-decoration="underline" letter-spacing="0.1">DDMS</text><text x="28.4" y="968.4" font-size="7.5" fill="#111" letter-spacing="0.55" stroke="#111" stroke-width="0.12">Server Add</text><text x="85.1" y="968.4" font-size="7.5" fill="#111" letter-spacing="0.55" stroke="#111" stroke-width="0.12">: localhost:3000</text><text x="28.4" y="979.4" font-size="7.5" font-weight="bold" font-style="italic" fill="#111" text-decoration="underline" letter-spacing="0.1">MNIS</text><text x="28.4" y="990.5" font-size="7.5" fill="#111" letter-spacing="0.55" stroke="#111" stroke-width="0.12">Control Int.</text><text x="85.1" y="990.5" font-size="7.5" fill="#111" letter-spacing="0.55" stroke="#111" stroke-width="0.12">: localhost: 50000</text><text x="28.4" y="1001.6" font-size="7.5" fill="#111" letter-spacing="0.55" stroke="#111" stroke-width="0.12">Interface</text><text x="85.1" y="1001.6" font-size="7.5" fill="#111" letter-spacing="0.55" stroke="#111" stroke-width="0.12">: 192.168.50.2</text><text x="28.4" y="1012.7" font-size="7.5" fill="#111" letter-spacing="0.55" stroke="#111" stroke-width="0.12">MNIS ID</text><text x="85.1" y="1012.7" font-size="7.5" fill="#111" letter-spacing="0.55" stroke="#111" stroke-width="0.12">: 65535</text><text x="336.3" y="879.5" font-size="7.5" font-weight="bold" fill="#111" letter-spacing="0.15">PC IP</text><text x="392.7" y="879.5" font-size="7.5" fill="#111" letter-spacing="0.55" stroke="#111" stroke-width="0.12">: 192.168.3.102/24</text><text x="336.3" y="891.0" font-size="7.5" font-weight="bold" font-style="italic" fill="#111" text-decoration="underline" letter-spacing="0.1">RDAC</text><text x="336.3" y="902.5" font-size="7.5" fill="#111" letter-spacing="0.55" stroke="#111" stroke-width="0.12">RDAC ID</text><text x="392.7" y="902.5" font-size="7.5" fill="#111" letter-spacing="0.55" stroke="#111" stroke-width="0.12">: 1</text><text x="336.3" y="913.3" font-size="7.5" fill="#111" letter-spacing="0.55" stroke="#111" stroke-width="0.12">RDAC UDP</text><text x="392.7" y="913.3" font-size="7.5" fill="#111" letter-spacing="0.55" stroke="#111" stroke-width="0.12">: 50099</text><text x="336.3" y="924.6" font-size="7.5" font-weight="bold" font-style="italic" fill="#111" text-decoration="underline" letter-spacing="0.1">CPS</text><text x="336.3" y="935.4" font-size="7.5" fill="#111" letter-spacing="0.55" stroke="#111" stroke-width="0.12">CPS ID</text><text x="392.7" y="935.4" font-size="7.5" fill="#111" letter-spacing="0.55" stroke="#111" stroke-width="0.12">: 17</text><text x="336.3" y="946.7" font-size="7.5" fill="#111" letter-spacing="0.55" stroke="#111" stroke-width="0.12">CPS TCP</text><text x="392.7" y="946.7" font-size="7.5" fill="#111" letter-spacing="0.55" stroke="#111" stroke-width="0.12">: 50002</text><text x="336.3" y="957.5" font-size="7.5" fill="#111" letter-spacing="0.55" stroke="#111" stroke-width="0.12">CPS UDP</text><text x="392.7" y="957.5" font-size="7.5" fill="#111" letter-spacing="0.55" stroke="#111" stroke-width="0.12">: 50003</text><text x="336.3" y="969.7" font-size="7.5" font-weight="bold" font-style="italic" fill="#111" text-decoration="underline" letter-spacing="0.1">RM</text><text x="336.3" y="980.5" font-size="7.5" fill="#111" letter-spacing="0.55" stroke="#111" stroke-width="0.12">RM Server</text><text x="392.7" y="980.5" font-size="7.5" fill="#111" letter-spacing="0.55" stroke="#111" stroke-width="0.12">: localhost</text><text x="336.3" y="991.4" font-size="7.5" fill="#111" letter-spacing="0.55" stroke="#111" stroke-width="0.12">Port</text><text x="392.7" y="991.4" font-size="7.5" fill="#111" letter-spacing="0.55" stroke="#111" stroke-width="0.12">: 8675</text><text x="336.3" y="1002.6" font-size="7.5" fill="#111" letter-spacing="0.55" stroke="#111" stroke-width="0.12">PN Server</text><text x="392.7" y="1002.6" font-size="7.5" fill="#111" letter-spacing="0.55" stroke="#111" stroke-width="0.12">: 192.168.3.100</text><text x="336.3" y="1013.5" font-size="7.5" fill="#111" letter-spacing="0.55" stroke="#111" stroke-width="0.12">Port</text><text x="392.7" y="1013.5" font-size="7.5" fill="#111" letter-spacing="0.55" stroke="#111" stroke-width="0.12">: 3000</text><text x="609.2" y="719.6" font-size="19.5" textLength="24.6" lengthAdjust="spacingAndGlyphs">DS</text><text x="610.1" y="775.2" font-size="10.4" fill="#e3262a" text-decoration="underline" textLength="63.4" lengthAdjust="spacingAndGlyphs"><tspan font-weight="bold">WAN:</tspan> 10.1.1.4</text><text x="604.8" y="788.6" font-size="10.4" fill="#111" textLength="74.6" lengthAdjust="spacingAndGlyphs"><tspan font-weight="bold">LAN:</tspan> 192.168.4.1</text><text x="739.5" y="937.4" font-size="7.7" font-weight="bold" fill="#111" text-decoration="underline" text-anchor="middle" letter-spacing="0.18">SmartPTT</text><text x="739.5" y="948.6" font-size="7.7" fill="#111" text-anchor="middle" letter-spacing="0.25" stroke="#111" stroke-width="0.12">Dispatcher1</text><text x="696.0" y="967.5" font-size="7.5" fill="#111" stroke="#111" stroke-width="0.12"><tspan font-weight="bold" letter-spacing="-0.1">PC IP:</tspan> <tspan letter-spacing="0.55">192.168.4.103/24</tspan></text><text x="1127.7" y="757.0" font-size="21.5" font-weight="bold" font-style="italic" fill="#111" textLength="186.0" lengthAdjust="spacingAndGlyphs">Routing &amp; NAT-ing</text><text x="1019.3" y="785.7" font-size="8.7" fill="#e3262a" text-decoration="underline" textLength="37.8" lengthAdjust="spacingAndGlyphs" stroke="#e3262a" stroke-width="0.12">Router 1</text><text x="1144.7" y="785.7" font-size="8.7" fill="#e3262a" text-decoration="underline" textLength="37.8" lengthAdjust="spacingAndGlyphs" stroke="#e3262a" stroke-width="0.12">Router 2</text><text x="1259.2" y="785.7" font-size="8.7" fill="#e3262a" text-decoration="underline" textLength="37.8" lengthAdjust="spacingAndGlyphs" stroke="#e3262a" stroke-width="0.12">Router 3</text><text x="1361.8" y="786.7" font-size="8.7" fill="#e3262a" text-decoration="underline" textLength="37.8" lengthAdjust="spacingAndGlyphs" stroke="#e3262a" stroke-width="0.12">Router 4</text><text x="998.7" y="807.8" font-size="8.7" fill="#111" letter-spacing="0.5" stroke="#111" stroke-width="0.12">1. 50011: 192.168.1.11</text><text x="998.7" y="820.4" font-size="8.7" fill="#111" letter-spacing="0.5" stroke="#111" stroke-width="0.12">(UDP)</text><text x="998.7" y="833.1" font-size="8.7" fill="#111" letter-spacing="0.5" stroke="#111" stroke-width="0.12">2. 50012: 192.168.1.12</text><text x="998.7" y="845.8" font-size="8.7" fill="#111" letter-spacing="0.5" stroke="#111" stroke-width="0.12">(UDP)</text><text x="998.7" y="858.4" font-size="8.7" fill="#111" letter-spacing="0.5" stroke="#111" stroke-width="0.12">3. 50013: 192.168.1.13</text><text x="998.7" y="871.0" font-size="8.7" fill="#111" letter-spacing="0.5" stroke="#111" stroke-width="0.12">(UDP)</text><text x="998.7" y="883.7" font-size="8.7" fill="#111" letter-spacing="0.5" stroke="#111" stroke-width="0.12">4. 55001: 192.168.1.111</text><text x="998.7" y="896.3" font-size="8.7" fill="#111" letter-spacing="0.5" stroke="#111" stroke-width="0.12">(UDP)</text><text x="1111.9" y="807.8" font-size="8.7" fill="#111" letter-spacing="0.5" stroke="#111" stroke-width="0.12">1. 50021: 192.168.2.21</text><text x="1111.9" y="820.4" font-size="8.7" fill="#111" letter-spacing="0.5" stroke="#111" stroke-width="0.12">(UDP)</text><text x="1111.9" y="833.1" font-size="8.7" fill="#111" letter-spacing="0.5" stroke="#111" stroke-width="0.12">2. 50022: 192.168.2.22</text><text x="1111.9" y="845.8" font-size="8.7" fill="#111" letter-spacing="0.5" stroke="#111" stroke-width="0.12">(UDP)</text><text x="1111.9" y="858.4" font-size="8.7" fill="#111" letter-spacing="0.5" stroke="#111" stroke-width="0.12">3. 50033: 192.168.2.23</text><text x="1111.9" y="871.0" font-size="8.7" fill="#111" letter-spacing="0.5" stroke="#111" stroke-width="0.12">(UDP)</text><text x="1111.9" y="883.7" font-size="8.7" fill="#111" letter-spacing="0.5" stroke="#111" stroke-width="0.12">4. 55002: 192.168.2.122</text><text x="1111.9" y="896.3" font-size="8.7" fill="#111" letter-spacing="0.5" stroke="#111" stroke-width="0.12">(UDP)</text><text x="1111.9" y="909.0" font-size="8.7" fill="#111" letter-spacing="0.5" stroke="#111" stroke-width="0.12">5. 50011: 10.1.1.1 (UDP)</text><text x="1224.8" y="807.8" font-size="8.7" fill="#111" letter-spacing="0.5" stroke="#111" stroke-width="0.12">1. 18501: 192.168.3.101</text><text x="1224.8" y="820.4" font-size="8.7" fill="#111" letter-spacing="0.5" stroke="#111" stroke-width="0.12">(TCP/UDP)</text><text x="1224.8" y="833.1" font-size="8.7" fill="#111" letter-spacing="0.5" stroke="#111" stroke-width="0.12">2. 8888: 192.168.3.100</text><text x="1224.8" y="845.8" font-size="8.7" fill="#111" letter-spacing="0.5" stroke="#111" stroke-width="0.12">(TCP/UDP)</text><text x="1224.8" y="858.4" font-size="8.7" fill="#111" letter-spacing="0.5" stroke="#111" stroke-width="0.12">3. 50099: 192.168.3.102</text><text x="1224.8" y="871.0" font-size="8.7" fill="#111" letter-spacing="0.5" stroke="#111" stroke-width="0.12">(UDP)</text><text x="1224.8" y="883.7" font-size="8.7" fill="#111" letter-spacing="0.5" stroke="#111" stroke-width="0.12">4. 50002: 192.168.3.102</text><text x="1224.8" y="896.3" font-size="8.7" fill="#111" letter-spacing="0.5" stroke="#111" stroke-width="0.12">(TCP)</text><text x="1224.8" y="909.0" font-size="8.7" fill="#111" letter-spacing="0.5" stroke="#111" stroke-width="0.12">5. 50003: 192.168.3.102</text><text x="1224.8" y="921.6" font-size="8.7" fill="#111" letter-spacing="0.5" stroke="#111" stroke-width="0.12">(UDP)</text><text x="1224.8" y="934.3" font-size="8.7" fill="#111" letter-spacing="0.5" stroke="#111" stroke-width="0.12">6. 50001: 192.168.3.100</text><text x="1224.8" y="946.9" font-size="8.7" fill="#111" letter-spacing="0.5" stroke="#111" stroke-width="0.12">(TCP/UDP)</text><text x="1342.8" y="807.8" font-size="8.7" fill="#111" letter-spacing="0.5" stroke="#111" stroke-width="0.12">1. DMZ Host:</text><text x="1342.8" y="820.4" font-size="8.7" fill="#111" letter-spacing="0.5" stroke="#111" stroke-width="0.12">192.168.4.103</text>
</svg>
</body></html>
